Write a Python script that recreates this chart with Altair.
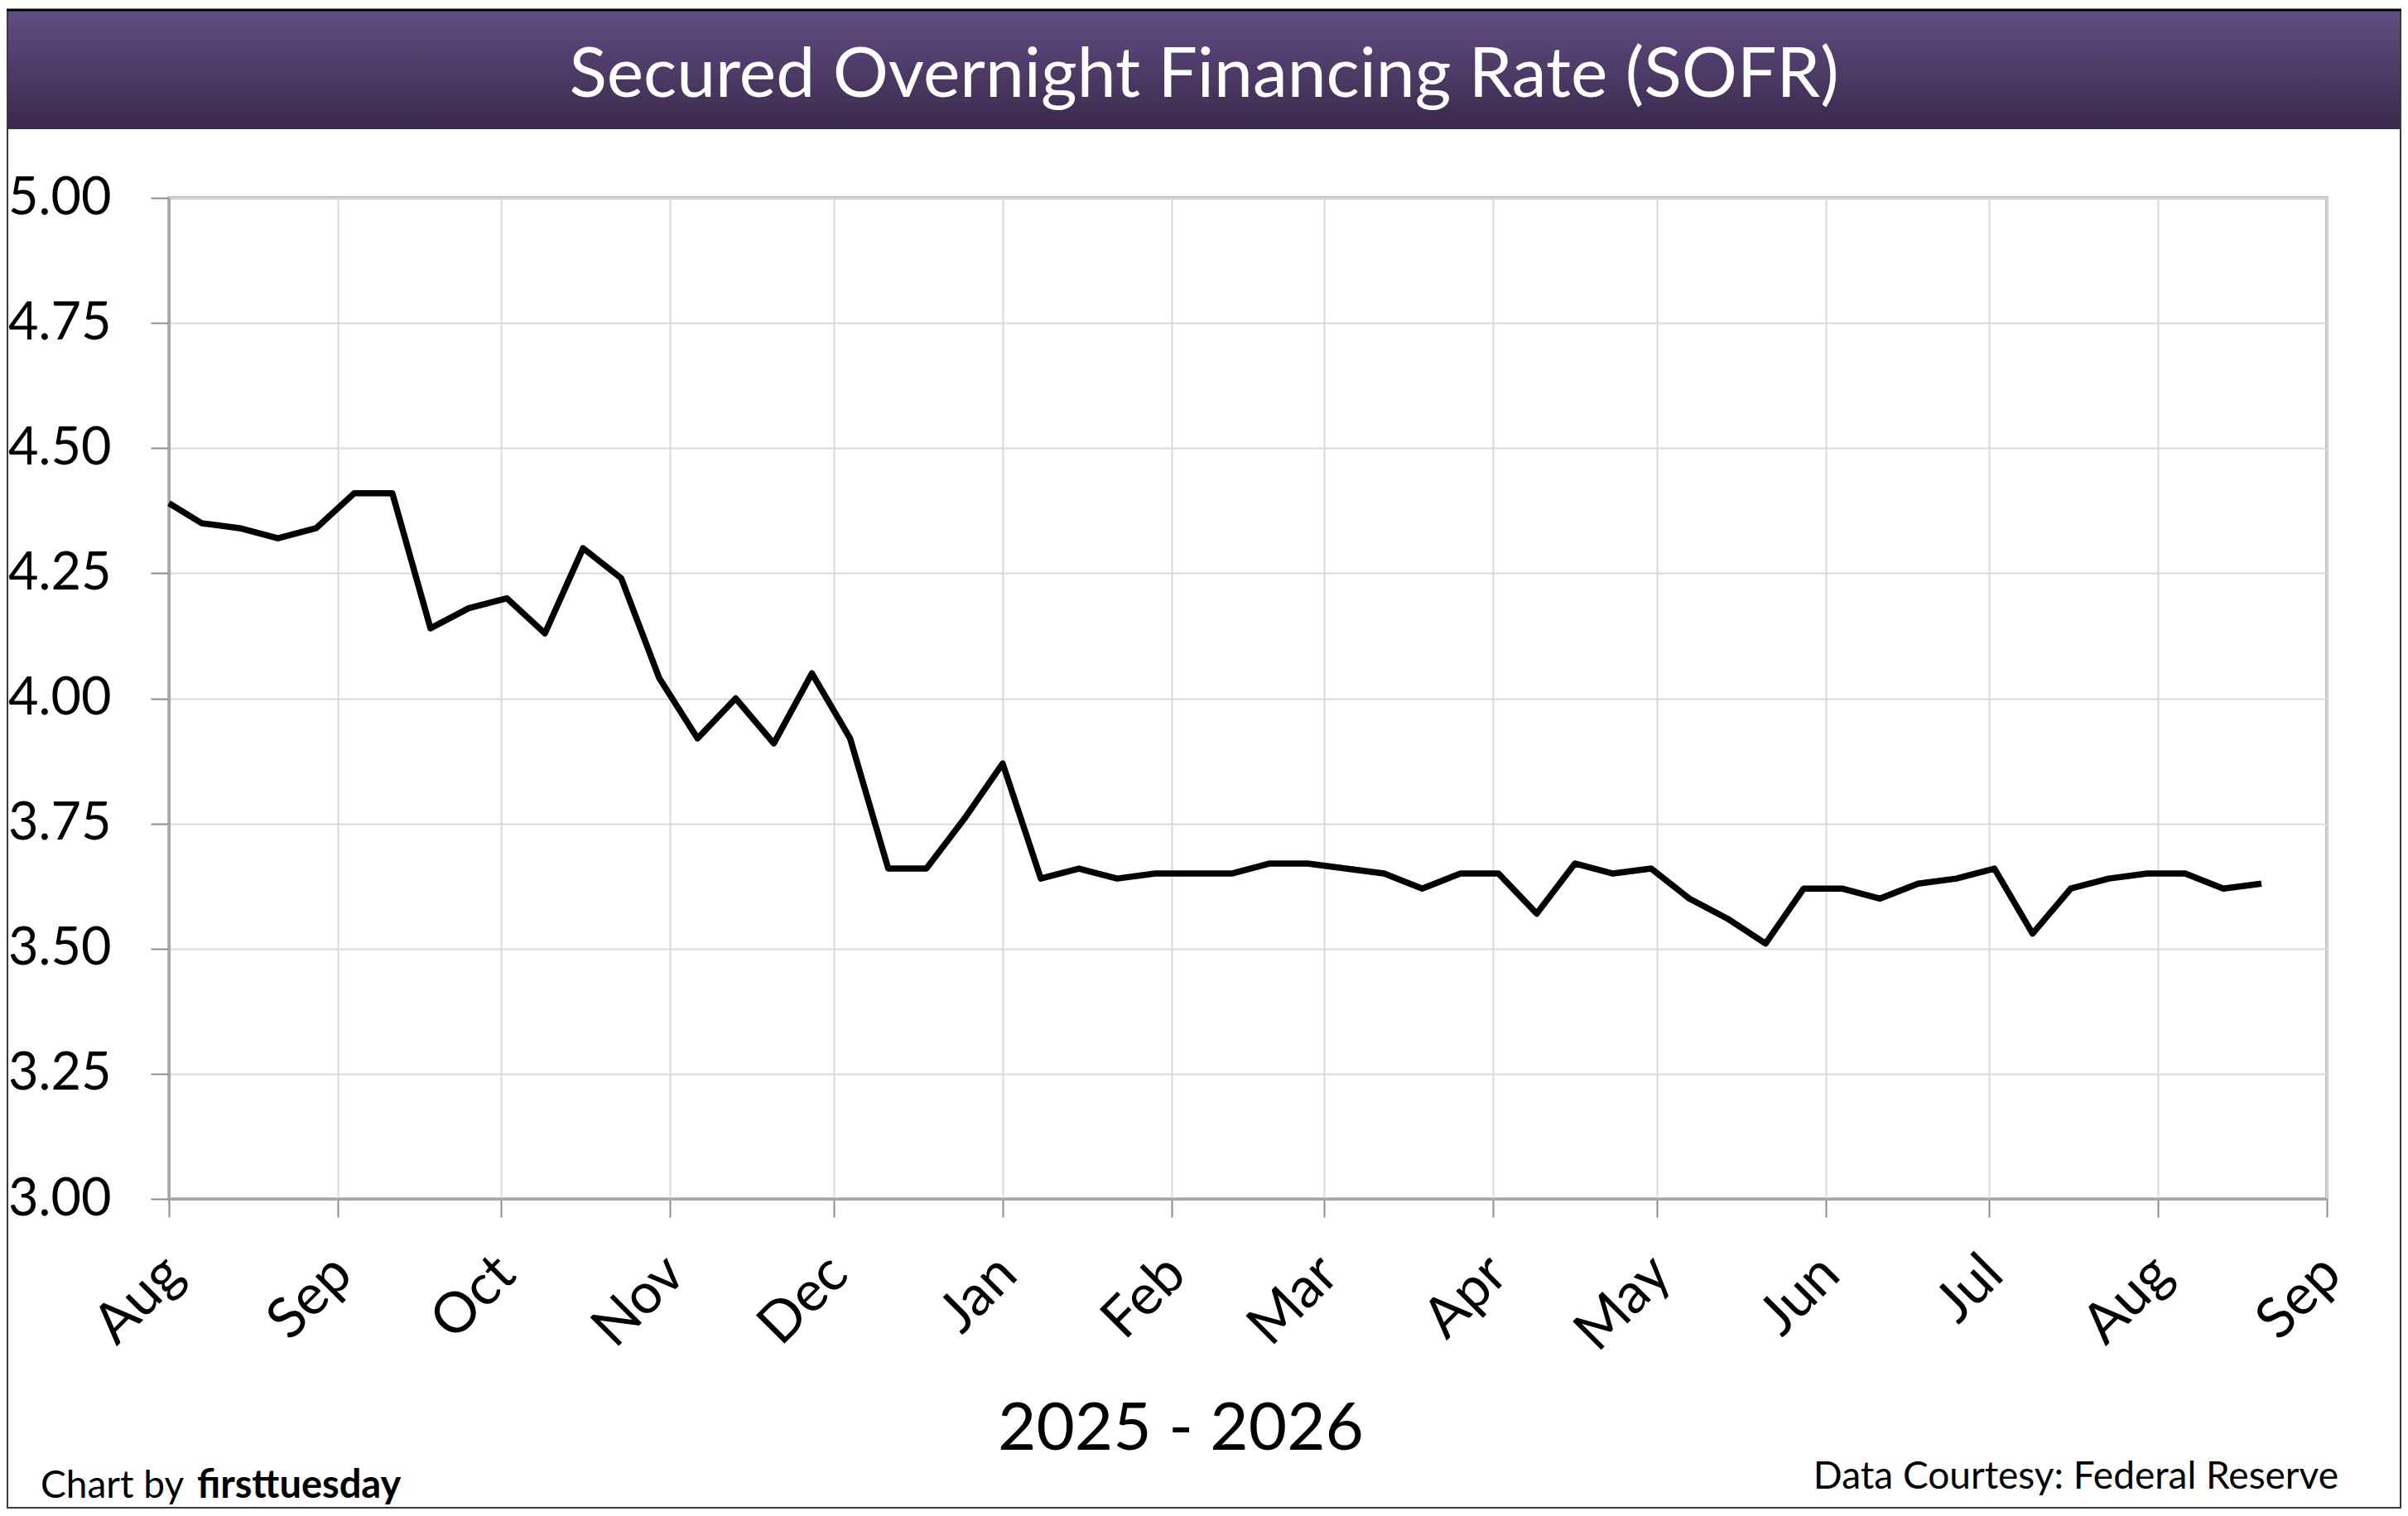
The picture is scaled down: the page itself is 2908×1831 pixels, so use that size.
import altair as alt
import pandas as pd

# weekly SOFR readings, Aug 2025 - Aug 2026
week_start = ["2025-08-01"]
week_dates = week_start + [d.strftime("%Y-%m-%d") for d in pd.date_range("2025-08-07", periods=55, freq="7D")]
sofr = [
    4.39, 4.35, 4.34, 4.32, 4.34, 4.41, 4.41, 4.14, 4.18, 4.20,
    4.13, 4.30, 4.24, 4.04, 3.92, 4.00, 3.91, 4.05, 3.92, 3.66,
    3.66, 3.76, 3.87, 3.64, 3.66, 3.64, 3.65, 3.65, 3.65, 3.67,
    3.67, 3.66, 3.65, 3.62, 3.65, 3.65, 3.57, 3.67, 3.65, 3.66,
    3.60, 3.56, 3.51, 3.62, 3.62, 3.60, 3.63, 3.64, 3.66, 3.53,
    3.62, 3.64, 3.65, 3.65, 3.62, 3.63,
]
y_ticks = [3.00, 3.25, 3.50, 3.75, 4.00, 4.25, 4.50, 4.75, 5.00]

title_text = "Secured Overnight Financing Rate (SOFR)"
period_text = "2025 - 2026"
credit_left = "Chart by"
credit_brand = "firsttuesday"
credit_right = "Data Courtesy: Federal Reserve"

FONT = "Lato"
W, H = 2606, 1209
PAD = {"left": 196, "top": 231, "right": 90, "bottom": 375}
LEFT, RIGHT = -PAD["left"], W + PAD["right"]
TOP, BOTTOM = -PAD["top"] + 4, H + PAD["bottom"] - 2

df = pd.DataFrame({"date": week_dates, "rate": sofr})
one = pd.DataFrame({"k": [0]})

banner = alt.Chart(one).mark_rect(
    fill=alt.LinearGradient(
        gradient="linear",
        stops=[alt.GradientStop(color="#634d84", offset=0),
               alt.GradientStop(color="#39294b", offset=1)],
        x1=0, x2=0, y1=0, y2=1,
    )
).encode(x=alt.value(LEFT), x2=alt.value(RIGHT), y=alt.value(TOP), y2=alt.value(-83))

frame = alt.Chart(one).mark_rect(fillOpacity=0, stroke="#3a3a3a", strokeWidth=2).encode(
    x=alt.value(LEFT + 1), x2=alt.value(RIGHT - 1), y=alt.value(TOP), y2=alt.value(BOTTOM)
)

top_rule = alt.Chart(one).mark_rule(color="black", strokeWidth=3).encode(
    x=alt.value(LEFT), x2=alt.value(RIGHT), y=alt.value(TOP)
)


def label(text, x, y, size, align="center", weight="normal", color="black"):
    return alt.Chart(one).mark_text(
        text=text, font=FONT, fontSize=size, align=align, baseline="alphabetic",
        fontWeight=weight, color=color,
    ).encode(x=alt.value(x), y=alt.value(y))


title = label(title_text, 1250, -122, 84, color="white")
period = label(period_text, 1222, 1512, 80)
credit_a = label(credit_left, -155, 1570, 46, align="left")
credit_b = label(credit_brand, 34, 1570, 47, align="left", weight="bold")
credit_c = label(credit_right, 2620, 1559, 46, align="right")

line = alt.Chart(df).mark_line(color="black", strokeWidth=7.5, strokeJoin="round").encode(
    x=alt.X(
        "date:T",
        title=None,
        scale=alt.Scale(
            type="utc",
            domain=[alt.DateTime(year=2025, month=8, date=1, utc=True),
                    alt.DateTime(year=2026, month=9, date=1, utc=True)],
            nice=False,
        ),
        axis=alt.Axis(
            format="%b", tickCount=alt.TickCount(interval="month", step=1),
            labelAngle=315, labelAlign="right", labelBaseline="middle",
            labelPadding=58, labelOffset=6, labelFontSize=68,
        ),
    ),
    y=alt.Y(
        "rate:Q",
        title=None,
        scale=alt.Scale(domain=[3, 5], nice=False, zero=False),
        axis=alt.Axis(values=y_ticks, format=".2f", labelFontSize=63, labelPadding=48),
    ),
)

chart = (
    alt.layer(banner, frame, top_rule, title, period, credit_a, credit_b, credit_c, line)
    .properties(width=W, height=H, padding=PAD, autosize=alt.AutoSizeParams(type="none"))
    .configure_view(stroke="#bfbfbf", strokeWidth=4)
    .configure_axis(
        labelFont=FONT, labelColor="black", labelOverlap=False,
        domainColor="#a6a6a6", domainWidth=3,
        tickColor="#8c8c8c", tickWidth=2, tickSize=22,
        gridColor="#d9d9d9", gridWidth=2,
    )
)

chart.save("out.html", embed_options={"renderer": "svg", "actions": False})
